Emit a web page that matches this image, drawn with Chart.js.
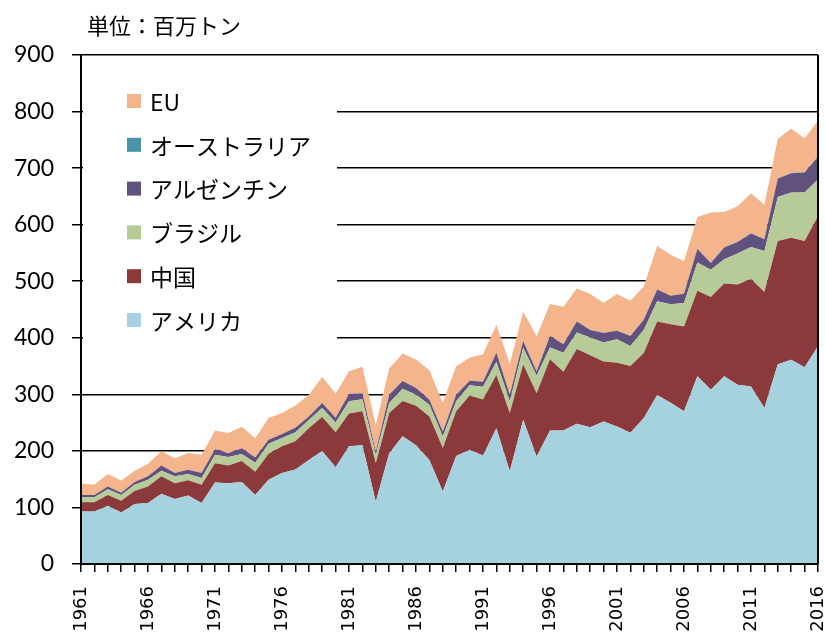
<!DOCTYPE html>
<html>
<head>
<meta charset="utf-8">
<script src="https://cdn.jsdelivr.net/npm/chart.js@4/dist/chart.umd.min.js"></script>
<style>
  body { margin: 0; background: #fff; }
  canvas { display: block; }
</style>
</head>
<body>
<canvas id="chart" width="825" height="632"></canvas>
<script>
// years 1961 - 2016, values in million tonnes
const years = [];
for (let y = 1961; y <= 2016; y++) years.push(String(y));

const usa = [93, 93, 103, 91, 106, 108, 124, 115, 121, 108, 144, 143, 145, 122, 149, 161, 167, 184, 200, 171,
  208, 210, 110, 196, 226, 210, 184, 128, 191, 202, 192, 240, 164, 255, 190, 236, 236, 248, 242, 252,
  243, 232, 258, 299, 285, 270, 332, 308, 332, 317, 314, 276, 353, 361, 348, 385];
const china = [16, 16, 19, 21, 23, 29, 31, 28, 27, 32, 34, 31, 37, 41, 46, 47, 50, 56, 60, 62,
  58, 60, 68, 71, 62, 70, 77, 77, 79, 96, 99, 94, 103, 98, 112, 126, 104, 132, 127, 106,
  113, 118, 115, 130, 139, 150, 151, 164, 164, 177, 190, 205, 218, 216, 223, 230];
const brazil = [9, 9, 10, 10, 11, 12, 10, 12, 11, 12, 15, 15, 12.5, 16, 17.6, 14.7, 15.9, 14.6, 16, 17.4,
  21.8, 21.3, 14.6, 17.7, 21.9, 19.4, 20.7, 20.5, 17.6, 18, 22.4, 23.5, 20.6, 29.4, 31.2, 20.6, 33.7, 29.4, 31.4, 33.6,
  41.4, 35.4, 41.3, 35.4, 35.4, 41.4, 50.3, 48.4, 43, 54.9, 56.7, 72.6, 78, 79.8, 85.8, 64.7];
const argentina = [4, 4, 5, 4, 5, 6, 9, 6, 7.5, 9, 10, 7, 10, 9.5, 7.1, 7.1, 7.8, 6, 8.7, 8,
  13, 10.4, 6, 14.7, 13.5, 11.9, 8.9, 8.9, 11.8, 8, 9, 16, 11.8, 11.8, 7.1, 20.7, 14.7, 19.5, 13.5, 16.7,
  15, 17.7, 17.7, 20.8, 14.7, 16.5, 23.5, 11.9, 20.8, 20.6, 23.6, 20.7, 32.6, 34.2, 35.4, 40.6];
const australia = [0.1, 0.1, 0.1, 0.1, 0.1, 0.2, 0.2, 0.2, 0.2, 0.2, 0.2, 0.2, 0.2, 0.1, 0.1, 0.1, 0.1, 0.1, 0.1, 0.1,
  0.1, 0.1, 0.2, 0.2, 0.2, 0.2, 0.2, 0.2, 0.2, 0.2, 0.2, 0.2, 0.2, 0.2, 0.3, 0.3, 0.3, 0.3, 0.4, 0.4,
  0.4, 0.4, 0.3, 0.4, 0.4, 0.4, 0.4, 0.4, 0.4, 0.4, 0.4, 0.5, 0.5, 0.5, 0.4, 0.4];
const eu = [19.7, 18.5, 22, 21.6, 20, 22, 25, 26, 29.5, 32, 33, 35.5, 38, 33.7, 38.3, 37.2, 39.6, 38, 46.1, 42.6,
  40.1, 46.8, 47, 46.1, 48.5, 50.1, 51.9, 50.6, 50.2, 40.4, 48.3, 49.1, 54.4, 51.5, 62, 56.2, 66, 57.9, 63.2, 53.2,
  64.6, 62, 59, 76.7, 72.1, 57.2, 56.2, 88.6, 62, 62.7, 70.9, 60.3, 69.6, 78, 60.3, 63.1];

const seriesNames = ['アメリカ', '中国', 'ブラジル', 'アルゼンチン', 'オーストラリア', 'EU'];
const seriesColors = ['#a5d2de', '#8b393b', '#b6cb98', '#60517e', '#4a93a8', '#f4b48c'];
const seriesData = [usa, china, brazil, argentina, australia, eu];

const yTicks = { min: 0, max: 900, step: 100 };
const unitLabel = '単位：百万トン';

const datasets = seriesData.map((d, i) => ({
  label: seriesNames[i],
  data: d,
  backgroundColor: seriesColors[i],
  borderWidth: 0,
  pointRadius: 0,
  tension: 0,
  fill: i === 0 ? 'origin' : '-1'
}));

const decor = {
  id: 'decor',
  beforeDatasetsDraw(chart) {
    // white legend box hides the gridlines behind it
    const ctx = chart.ctx;
    ctx.save();
    ctx.fillStyle = '#fff';
    ctx.fillRect(83, 58, 254, 292);
    ctx.restore();
  },
  afterDraw(chart) {
    const ctx = chart.ctx;
    const a = chart.chartArea;
    ctx.save();
    ctx.strokeStyle = '#000';
    ctx.lineWidth = 2;
    ctx.beginPath();
    ctx.moveTo(a.left, a.top);
    ctx.lineTo(a.left, a.bottom);
    ctx.lineTo(a.right, a.bottom);
    ctx.moveTo(a.right, a.top);
    ctx.lineTo(a.right, a.bottom);
    ctx.stroke();

    // title
    ctx.fillStyle = '#000';
    ctx.font = '22px "Noto Sans CJK JP"';
    ctx.textBaseline = 'middle';
    ctx.textAlign = 'left';
    ctx.fillText(unitLabel, 87, 26);

    // legend, top to bottom is EU ... アメリカ
    ctx.font = '23px "Noto Sans CJK JP"';
    for (let k = 0; k < seriesNames.length; k++) {
      const i = seriesNames.length - 1 - k;
      const cy = 101 + k * 43.8;
      ctx.fillStyle = seriesColors[i];
      ctx.fillRect(127, cy - 7, 14, 14);
      ctx.fillStyle = '#000';
      ctx.fillText(seriesNames[i], 150, cy + 1);
    }
    ctx.restore();
  }
};

new Chart(document.getElementById('chart').getContext('2d'), {
  type: 'line',
  data: { labels: years, datasets: datasets },
  options: {
    responsive: false,
    animation: false,
    layout: { padding: { left: 0, right: 7, top: 55, bottom: 0 } },
    plugins: { legend: { display: false }, title: { display: false }, tooltip: { enabled: false } },
    scales: {
      x: {
        grid: { drawOnChartArea: false, drawTicks: true, tickLength: 8, color: '#000', lineWidth: 1.5 },
        border: { color: '#000', width: 2 },
        ticks: {
          autoSkip: false, minRotation: 90, maxRotation: 90, padding: 14,
          color: '#000', font: { family: 'DejaVu Sans', size: 18 },
          callback: (v, i) => (i % 5 === 0 ? years[i] : '')
        },
        afterFit: s => { s.height = 68; s.paddingLeft = 0; s.paddingRight = 0; }
      },
      y: {
        stacked: true,
        min: yTicks.min, max: yTicks.max,
        grid: { color: '#000', lineWidth: 1.5, tickLength: 9 },
        border: { color: '#000', width: 2 },
        ticks: { stepSize: yTicks.step, padding: 18, color: '#000', font: { family: 'Lato', size: 23 } },
        afterFit: s => { s.width = 81; }
      }
    }
  },
  plugins: [decor]
});
</script>
</body>
</html>
